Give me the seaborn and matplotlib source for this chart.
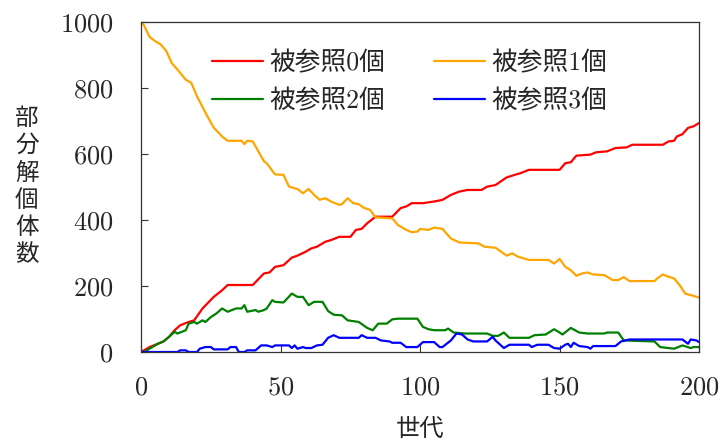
import matplotlib.pyplot as plt
import pandas as pd
import seaborn as sns

# Values (generation, count)
labels = ["被参照0個", "被参照1個", "被参照2個", "被参照3個"]
colors = ["#ff0000", "#ffa500", "#008000", "#0000ff"]

gen0 = [0, 3, 6, 8, 10, 12, 14, 17, 19, 22, 26, 29, 31, 40, 44, 46, 48, 51, 54, 56, 59, 61, 63, 66, 68,
        71, 75, 77, 79, 81, 84, 90, 93, 95, 97, 101, 105, 108, 111, 114, 117, 122, 124, 127, 131, 134,
        136, 139, 150, 152, 154, 156, 161, 163, 167, 170, 174, 176, 187, 189, 191, 192, 194, 196, 198, 200]
ref0 = [0, 15, 25, 32, 46, 66, 81, 91, 96, 132, 167, 187, 203, 203, 238, 241, 258, 263, 286, 292, 304,
        314, 319, 334, 339, 349, 349, 370, 373, 390, 410, 410, 436, 441, 451, 451, 456, 461, 476, 486,
        491, 491, 501, 506, 529, 537, 542, 552, 552, 572, 575, 595, 598, 605, 608, 618, 620, 628, 628,
        638, 640, 653, 660, 679, 684, 694]

gen1 = [0, 1, 3, 5, 7, 9, 11, 13, 16, 18, 20, 24, 26, 29, 31, 36, 37, 38, 40, 42, 44, 45, 48, 51, 53,
        56, 58, 60, 62, 64, 66, 68, 71, 72, 74, 76, 78, 80, 82, 84, 90, 92, 95, 97, 99, 100, 103, 105,
        108, 111, 114, 121, 123, 127, 131, 133, 135, 139, 146, 148, 150, 152, 154, 156, 158, 160, 162,
        166, 169, 171, 173, 175, 184, 185, 187, 189, 191, 193, 195, 198, 200]
ref1 = [1000, 990, 955, 942, 932, 912, 875, 856, 825, 815, 775, 710, 680, 653, 640, 640, 630, 640, 638,
        608, 578, 572, 538, 537, 501, 494, 481, 494, 476, 461, 466, 456, 446, 448, 466, 451, 448, 436,
        431, 408, 405, 385, 370, 363, 365, 373, 370, 377, 373, 344, 332, 329, 319, 316, 292, 299, 289,
        279, 279, 268, 282, 258, 248, 231, 238, 241, 235, 233, 218, 218, 227, 215, 215, 223, 235, 228,
        223, 203, 177, 170, 165]

gen2 = [0, 1, 4, 6, 8, 10, 12, 13, 16, 17, 19, 20, 22, 23, 25, 27, 29, 31, 34, 36, 37, 38, 41, 42, 44,
        45, 47, 48, 51, 54, 56, 58, 60, 62, 65, 67, 69, 72, 74, 78, 81, 83, 85, 88, 90, 92, 99, 101,
        103, 105, 109, 110, 112, 116, 124, 126, 128, 130, 132, 139, 141, 145, 148, 150, 151, 154, 157,
        160, 166, 167, 171, 173, 184, 186, 191, 194, 197, 198, 200]
ref2 = [0, 0, 15, 25, 32, 46, 61, 56, 66, 86, 91, 86, 96, 91, 106, 117, 132, 122, 132, 132, 142, 122,
        127, 122, 127, 132, 157, 152, 150, 177, 167, 167, 142, 152, 152, 124, 113, 111, 96, 91, 73, 66,
        86, 86, 99, 101, 101, 76, 69, 66, 66, 71, 59, 56, 56, 49, 49, 59, 43, 43, 51, 53, 69, 59, 53,
        73, 59, 56, 56, 59, 59, 35, 32, 15, 10, 20, 12, 15, 15]

gen3 = [0, 13, 14, 16, 17, 20, 21, 23, 25, 26, 31, 32, 34, 35, 37, 38, 41, 43, 45, 47, 48, 53, 54, 55,
        56, 58, 59, 61, 63, 65, 67, 69, 71, 78, 79, 81, 84, 86, 89, 90, 93, 95, 99, 101, 105, 107, 108,
        111, 113, 115, 117, 119, 124, 126, 127, 130, 132, 139, 140, 142, 146, 148, 150, 152, 153, 154,
        155, 157, 160, 161, 162, 170, 172, 175, 194, 196, 197, 199, 200]
ref3 = [0, 0, 5, 5, 0, 0, 10, 15, 15, 8, 8, 15, 15, 0, 0, 5, 5, 20, 20, 15, 20, 20, 12, 20, 10, 15, 12,
        12, 20, 22, 43, 51, 43, 43, 51, 43, 43, 35, 32, 28, 28, 15, 15, 30, 30, 15, 15, 35, 56, 53, 38,
        32, 32, 46, 35, 12, 22, 22, 15, 22, 22, 12, 10, 22, 25, 15, 28, 18, 15, 10, 18, 18, 32, 38, 38,
        25, 38, 35, 30]

gens = [gen0, gen1, gen2, gen3]
refs = [ref0, ref1, ref2, ref3]
df = pd.concat(
    [pd.DataFrame({"世代": g, "個体数": r, "種類": lab}) for g, r, lab in zip(gens, refs, labels)],
    ignore_index=True,
)

sns.set_style("ticks")
plt.rcParams["font.family"] = ["cmr10", "Noto Sans CJK JP"]
plt.rcParams["axes.formatter.use_mathtext"] = True

fig = plt.figure(figsize=(7.24, 4.43), dpi=100)
ax = fig.add_axes([0.195, 0.2054, 0.7707, 0.745])

sns.lineplot(data=df, x="世代", y="個体数", hue="種類", palette=dict(zip(labels, colors)),
             estimator=None, linewidth=1.6, ax=ax)

ax.set_xlim(0, 200)
ax.set_ylim(0, 1000)
ax.set_xticks([0, 50, 100, 150, 200])
ax.set_yticks([0, 200, 400, 600, 800, 1000])
ax.tick_params(direction="in", length=5, width=0.8, labelsize=19, color="#333333")
ax.tick_params(axis="x", pad=17)
ax.tick_params(axis="y", pad=20)
for sp in ax.spines.values():
    sp.set_linewidth(0.9)
    sp.set_color("#333333")

ax.set_xlabel("世代", fontsize=17.5, labelpad=14)
ax.set_ylabel("\n".join("部分解個体数"), fontsize=17, rotation=0, linespacing=1.3,
              va="center", ha="center")
ax.yaxis.set_label_coords(-0.205, 0.5)

h, l = ax.get_legend_handles_labels()
order = [0, 2, 1, 3]
ax.legend([h[i] for i in order], [l[i] for i in order], ncol=2, frameon=False,
          loc="upper left", bbox_to_anchor=(0.127, 0.912), fontsize=18.5, borderpad=0,
          borderaxespad=0, handlelength=1.98, handletextpad=0.25, columnspacing=1.9,
          labelspacing=0.54)

fig.savefig("out.png")
